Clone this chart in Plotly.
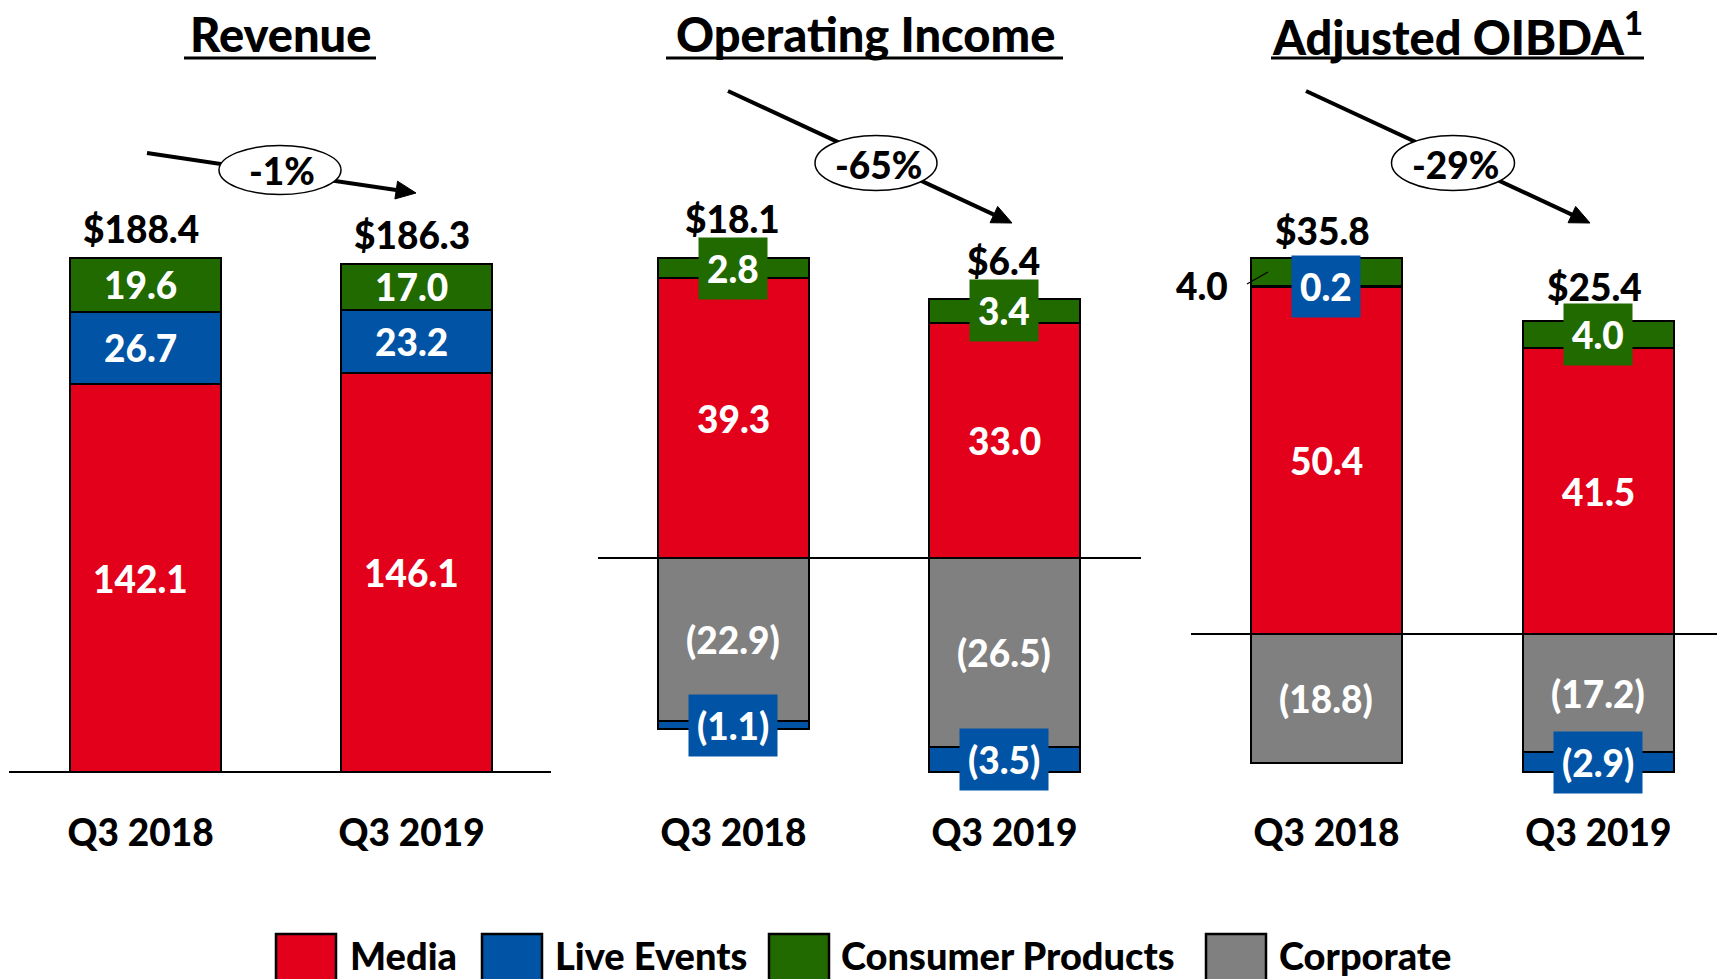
import math
import plotly.graph_objects as go

# ---------------- data ----------------
categories = ["Q3 2018", "Q3 2019"]
panel_titles = ["Revenue", "Operating Income", "Adjusted OIBDA<sup>1</sup>"]
series_names = ["Media", "Live Events", "Consumer Products", "Corporate"]

revenue_media = [142.1, 146.1]
revenue_live_events = [26.7, 23.2]
revenue_consumer_products = [19.6, 17.0]
revenue_corporate = [None, None]
revenue_total = [188.4, 186.3]

oi_media = [39.3, 33.0]
oi_live_events = [-1.1, -3.5]
oi_consumer_products = [2.8, 3.4]
oi_corporate = [-22.9, -26.5]
oi_total = [18.1, 6.4]

oibda_media = [50.4, 41.5]
oibda_live_events = [0.2, -2.9]
oibda_consumer_products = [4.0, 4.0]
oibda_corporate = [-18.8, -17.2]
oibda_total = [35.8, 25.4]

yoy_change = ["-1%", "-65%", "-29%"]

# ---------------- style / layout ----------------
W, H = 1717, 979
FONT = "Lato, 'Open Sans', sans-serif"
BOLD = 900
COLORS = {"Media": "#E2001A", "Live Events": "#0053A5",
          "Consumer Products": "#216A00", "Corporate": "#808080"}
STACK_ORDER = ["Media", "Corporate", "Live Events", "Consumer Products"]
PLOT_BOTTOM = 808  # px

panels = [
    dict(data={"Media": revenue_media, "Live Events": revenue_live_events,
               "Consumer Products": revenue_consumer_products, "Corporate": revenue_corporate},
         total=revenue_total, xdom=(9, 551), xrange=(-0.504, 1.496), yrange=(-13.2, 283.0),
         total_shift=[29, 28], title_x=280, ul=(184, 376), lab_dx=-5, tot_dx=-5),
    dict(data={"Media": oi_media, "Live Events": oi_live_events,
               "Consumer Products": oi_consumer_products, "Corporate": oi_corporate},
         total=oi_total, xdom=(598, 1141), xrange=(-0.5, 1.504), yrange=(-35.08, 78.31),
         total_shift=[39, 37], title_x=865, ul=(666, 1063), lab_dx=0, tot_dx=-1),
    dict(data={"Media": oibda_media, "Live Events": oibda_live_events,
               "Consumer Products": oibda_consumer_products, "Corporate": oibda_corporate},
         total=oibda_total, xdom=(1191, 1717), xrange=(-0.498, 1.436), yrange=(-25.27, 92.07),
         total_shift=[27, 33], title_x=1457, ul=(1271, 1644), lab_dx=0, tot_dx=-4),
]
# label drawn outside its bar: (panel, series, category index)
outside_labels = {(2, "Consumer Products", 0): dict(xshift=-124, yshift=0)}

arrows = [((147, 153), (416, 193), (280, 170), (122, 49)),
          ((728, 91), (1012, 223), (876, 163), (122, 55)),
          ((1306, 91), (1590, 223), (1453, 163), (123, 55))]


def X(px):
    return px / W


def Y(py):
    return 1 - py / H


def fmt(v):
    return f"{v:.1f}" if v >= 0 else f"({abs(v):.1f})"


fig = go.Figure()
annotations = []
shapes = []
BAR_W = 0.557

for i, p in enumerate(panels):
    s = "" if i == 0 else str(i + 1)
    xa, ya = "x" + s, "y" + s
    px_per_unit = PLOT_BOTTOM / (p["yrange"][1] - p["yrange"][0])
    pos_cum = [0.0, 0.0]
    neg_cum = [0.0, 0.0]
    for name in STACK_ORDER:
        vals = p["data"][name]
        if all(v is None for v in vals):
            continue
        fig.add_trace(go.Bar(
            x=categories, y=vals, name=name, width=BAR_W, xaxis=xa, yaxis=ya,
            marker=dict(color=COLORS[name], line=dict(color="black", width=2)),
            showlegend=False, hoverinfo="x+y+name"))
        for j, v in enumerate(vals):
            if v is None:
                continue
            if v >= 0:
                mid = pos_cum[j] + v / 2
                pos_cum[j] += v
            else:
                mid = neg_cum[j] + v / 2
                neg_cum[j] += v
            key = (i, name, j)
            if key in outside_labels:
                o = outside_labels[key]
                annotations.append(dict(
                    x=categories[j], y=mid - v / 2, xref=xa, yref=ya, text=fmt(v),
                    xanchor="center", yanchor="middle",
                    showarrow=False, xshift=o["xshift"], yshift=o["yshift"],
                    font=dict(family=FONT, size=37, color="black", weight=BOLD)))
                continue
            boxed = abs(v) * px_per_unit < 45
            ann = dict(x=categories[j], y=mid, xref=xa, yref=ya, text=fmt(v),
                       xanchor="center", yanchor="middle", showarrow=False,
                       xshift=0 if boxed else p["lab_dx"],
                       font=dict(family=FONT, size=37, color="white", weight=BOLD))
            if boxed:
                ann.update(bgcolor=COLORS[name], borderpad=8)
            annotations.append(ann)
    # totals
    for j, t in enumerate(p["total"]):
        annotations.append(dict(
            x=categories[j], y=pos_cum[j], xref=xa, yref=ya, text=f"${t:.1f}",
            showarrow=False, xanchor="center", yanchor="middle",
            xshift=p["tot_dx"], yshift=p["total_shift"][j] + 1,
            font=dict(family=FONT, size=37, color="black", weight=BOLD)))
    # titles
    annotations.append(dict(
        x=X(p["title_x"]), y=Y(34), xref="paper", yref="paper", text=panel_titles[i],
        xanchor="center", yanchor="middle", showarrow=False,
        font=dict(family=FONT, size=47, color="black", weight=BOLD)))
    shapes.append(dict(type="line", xref="paper", yref="paper",
                       x0=X(p["ul"][0]), x1=X(p["ul"][1]), y0=Y(58), y1=Y(58),
                       line=dict(color="black", width=3)))
    # axes
    fig.update_layout({
        "xaxis" + s: dict(domain=[X(p["xdom"][0]), X(p["xdom"][1])], range=list(p["xrange"]),
                          type="category", categoryorder="array", categoryarray=categories,
                          anchor=ya, showgrid=False, showline=False, zeroline=False, ticks="",
                          ticklabelshift=p["lab_dx"],
                          tickfont=dict(family=FONT, size=37, color="black", weight=BOLD),
                          fixedrange=True),
        "yaxis" + s: dict(domain=[1 - PLOT_BOTTOM / H, 1], range=list(p["yrange"]),
                          anchor=xa, showgrid=False, showline=False, showticklabels=False,
                          ticks="", zeroline=True, zerolinecolor="black", zerolinewidth=1.5,
                          fixedrange=True),
    })

# leader line for the outside "4.0" label
shapes.append(dict(type="line", xref="paper", yref="paper",
                   x0=X(1247), y0=Y(284), x1=X(1268), y1=Y(272),
                   line=dict(color="black", width=1.2)))

# change arrows with ellipse callouts
for k, (tail, head, c, size) in enumerate(arrows):
    dx, dy = head[0] - tail[0], head[1] - tail[1]
    L = math.hypot(dx, dy)
    ux, uy = dx / L, dy / L
    hl, hw = 20, 9
    bx, by = head[0] - ux * hl, head[1] - uy * hl
    shapes.append(dict(type="line", xref="paper", yref="paper",
                       x0=X(tail[0]), y0=Y(tail[1]), x1=X(bx), y1=Y(by),
                       line=dict(color="black", width=4)))
    p1 = (bx - uy * hw, by + ux * hw)
    p2 = (bx + uy * hw, by - ux * hw)
    path = (f"M {X(head[0])},{Y(head[1])} L {X(p1[0])},{Y(p1[1])} "
            f"L {X(p2[0])},{Y(p2[1])} Z")
    shapes.append(dict(type="path", xref="paper", yref="paper", path=path,
                       fillcolor="black", line=dict(color="black", width=1)))
    shapes.append(dict(type="circle", xref="paper", yref="paper",
                       x0=X(c[0] - size[0] / 2), x1=X(c[0] + size[0] / 2),
                       y0=Y(c[1] + size[1] / 2), y1=Y(c[1] - size[1] / 2),
                       fillcolor="white", line=dict(color="black", width=1.5)))
    annotations.append(dict(x=X(c[0] + 2), y=Y(c[1] + 1), xref="paper", yref="paper",
                            text=yoy_change[k], showarrow=False,
                            xanchor="center", yanchor="middle",
                            font=dict(family=FONT, size=37, color="black", weight=BOLD)))

# legend (drawn as swatches + text)
legend_box_x = [276, 482, 769, 1206]
legend_text_x = [348, 553, 839, 1277]
for name, bx0, tx in zip(series_names, legend_box_x, legend_text_x):
    shapes.append(dict(type="rect", xref="paper", yref="paper",
                       x0=X(bx0), x1=X(bx0 + 60), y0=Y(995), y1=Y(934),
                       fillcolor=COLORS[name], line=dict(color="black", width=2.5)))
    annotations.append(dict(x=X(tx), y=Y(955), xref="paper", yref="paper", text=name,
                            xanchor="left", yanchor="middle", showarrow=False,
                            font=dict(family=FONT, size=38, color="black", weight=BOLD)))

fig.update_layout(
    width=W, height=H, autosize=False,
    margin=dict(l=0, r=0, t=0, b=0, pad=0),
    barmode="relative", bargap=0,
    paper_bgcolor="white", plot_bgcolor="white",
    showlegend=False,
    annotations=annotations, shapes=shapes,
)

fig.write_html("out.html", config={"displayModeBar": False},
               post_script="document.body.style.margin='0';")
